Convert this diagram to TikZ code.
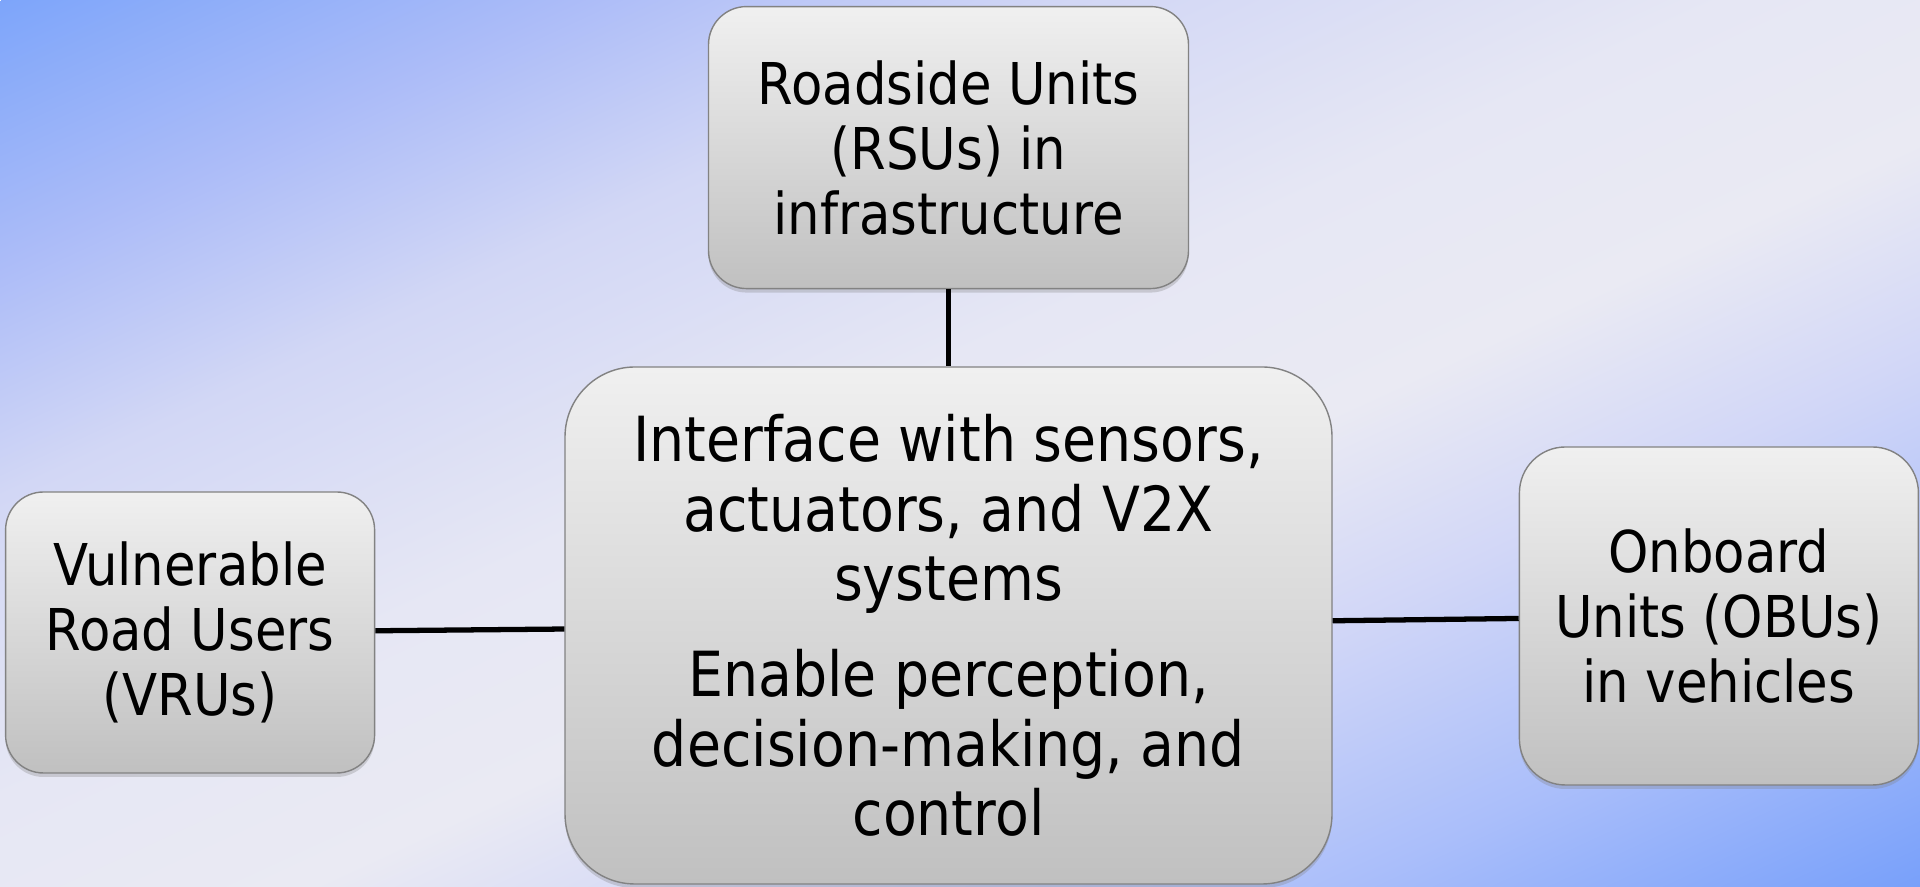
\documentclass[tikz,border=0pt]{standalone}
\usepackage{fontspec}
\setmainfont{DejaVu Sans}[FakeStretch=0.89]
\usepackage{tikz}
\usetikzlibrary{positioning,shadows}
\definecolor{bgA}{RGB}{125,165,250}
\definecolor{bgB}{RGB}{172,188,248}
\definecolor{bgC}{RGB}{210,215,245}
\definecolor{bgD}{RGB}{230,231,244}
\definecolor{bgE}{RGB}{234,234,243}
\definecolor{bgF}{RGB}{210,215,247}
\definecolor{bgG}{RGB}{170,190,250}
\definecolor{bgH}{RGB}{120,160,250}
\definecolor{boxtop}{RGB}{240,240,240}
\definecolor{boxbot}{RGB}{192,192,192}
\definecolor{boxedge}{RGB}{130,130,130}
\pgfdeclarehorizontalshading{bgshade}{100bp}{color(0bp)=(bgA); color(15bp)=(bgB); color(28bp)=(bgC); color(45bp)=(bgD); color(58bp)=(bgE); color(70bp)=(bgF); color(85bp)=(bgG); color(100bp)=(bgH)}

\begin{document}
\begin{tikzpicture}
\tikzstyle{B}=[draw=boxedge,line width=0.4pt,top color=boxtop,bottom color=boxbot,align=center,inner sep=0pt,font=\fontsize{16.4}{18.5}\selectfont,drop shadow={shadow xshift=0pt,shadow yshift=-0.04cm,opacity=0.3}]
\tikzstyle{C}=[B,rounded corners=0.7cm,minimum width=7.67cm,minimum height=5.17cm,font=\fontsize{17.7}{19.8}\selectfont]
\tikzstyle{link}=[line width=1.5pt,black]
% background
\useasboundingbox (0,0) rectangle (19.2,8.87);
\begin{scope}
\clip (0,0) rectangle (19.2,8.87);
\pgftransformcm{5.442}{-2.514}{5.442}{2.514}{\pgfpoint{9.6cm}{4.435cm}}
\pgflowlevelsynccm
\pgfuseshading{bgshade}
\end{scope}
% boxes
\node[C] (core) at (9.485,2.615) {Interface with sensors,\\actuators, and V2X\\systems\\[7.5pt]Enable perception,\\decision-making, and\\control};
\node[B,rounded corners=0.38cm,minimum width=4.8cm,minimum height=2.82cm,above=0.77cm of core] (rsu) {Roadside Units\\(RSUs) in\\infrastructure};
\node[B,rounded corners=0.38cm,minimum width=3.69cm,minimum height=2.81cm,left=1.89cm of core,yshift=-0.07cm] (vru) {Vulnerable\\Road Users\\(VRUs)};
\node[B,rounded corners=0.46cm,minimum width=3.99cm,minimum height=3.38cm,right=1.86cm of core,yshift=0.095cm] (obu) {Onboard\\Units (OBUs)\\in vehicles};
% links
\draw[link] (rsu) -- (core); \draw[link] (vru) -- (core); \draw[link] (obu) -- (core);
\end{tikzpicture}
\end{document}
